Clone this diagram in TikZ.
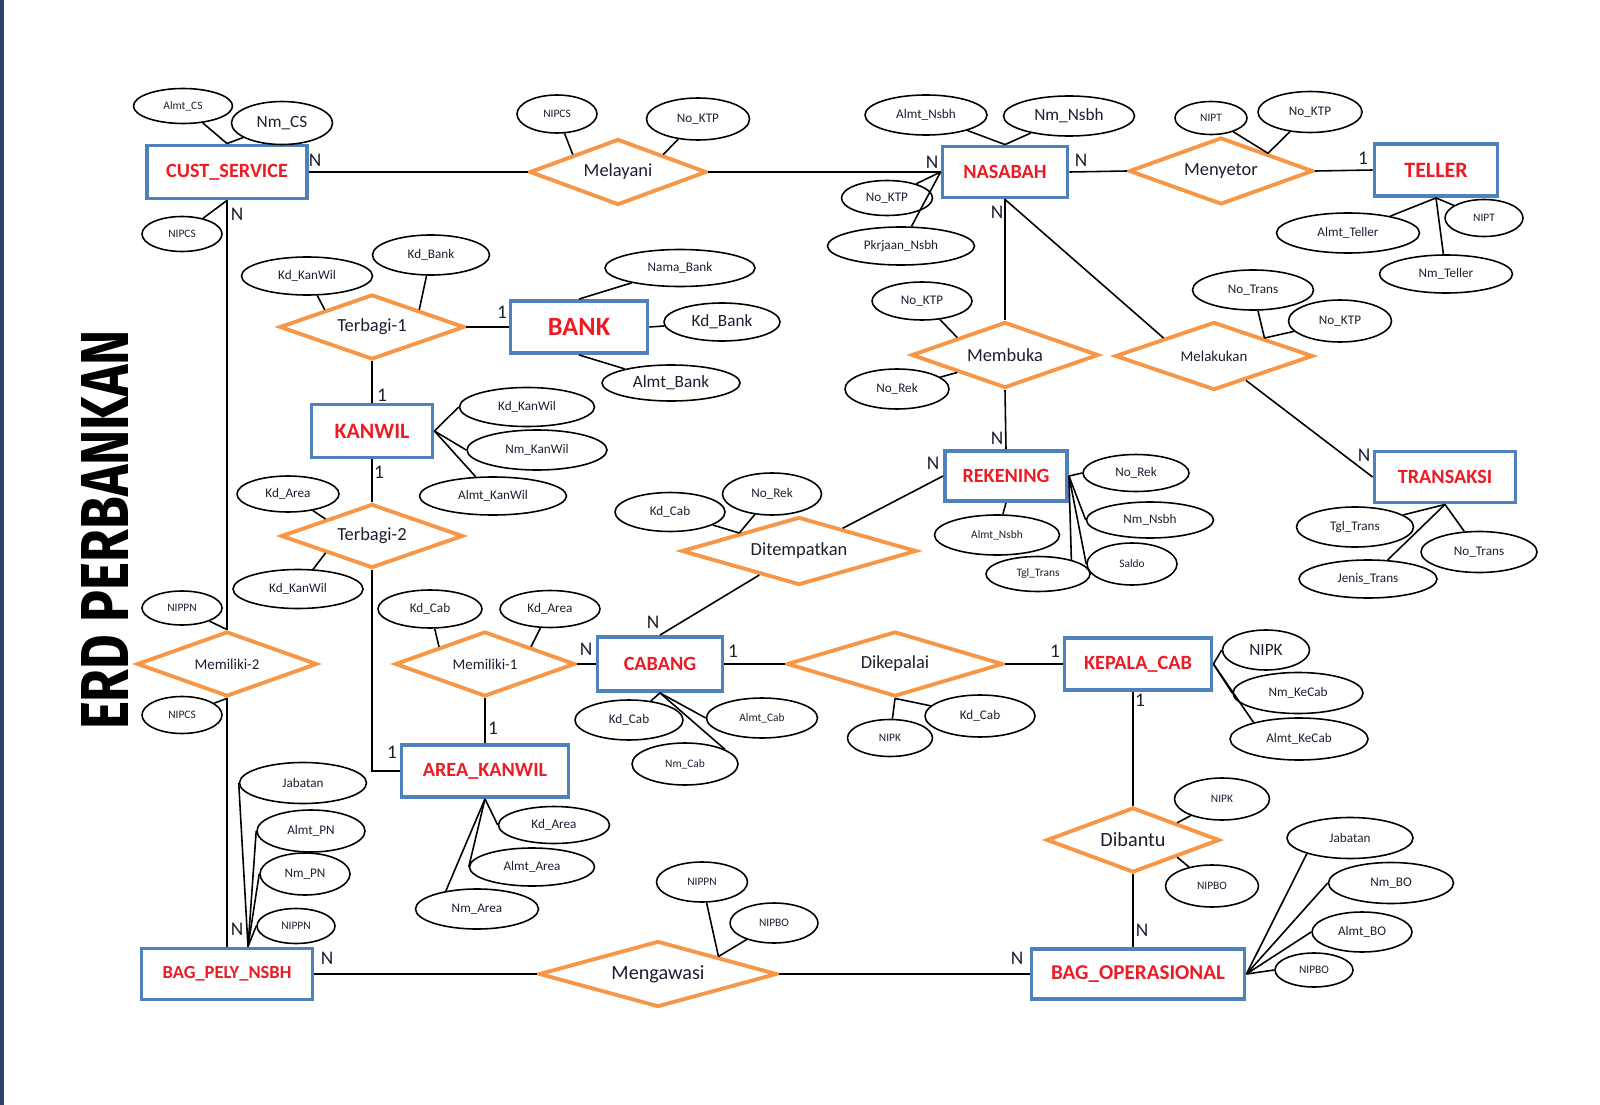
\documentclass[tikz,border=0pt]{standalone}
\usepackage{fontspec}
\setmainfont{Carlito}
\newfontfamily\titlefont{Fira Sans}
\usepackage{xcolor}
\usepackage{tikz}
\usetikzlibrary{shapes.geometric, calc}
\definecolor{entBlue}{RGB}{79, 129, 189}
\definecolor{relOrange}{RGB}{247, 150, 70}
\definecolor{entRed}{RGB}{235, 28, 36}
\definecolor{inkDark}{RGB}{30, 30, 50}
\definecolor{edgeNavy}{RGB}{45, 65, 105}

\begin{document}
\begin{tikzpicture}[x=0.02cm, y=-0.02cm,
    sz/.style 2 args={minimum width=#1*0.02cm, minimum height=#2*0.02cm},
    ent/.style={draw=entBlue, line width=2.2pt, fill=white, text=entRed, inner sep=0pt,
      font=\fontsize{11.5}{13}\selectfont\bfseries},
    rel/.style={diamond, aspect=3.5, draw=relOrange, line width=2.2pt, fill=white, inner sep=0pt,
      text=inkDark, font=\fontsize{10.5}{12}\selectfont},
    attr/.style={ellipse, draw, line width=0.9pt, fill=white, inner sep=1pt, text=inkDark,
      font=\fontsize{7.5}{9}\selectfont},
    attrs/.style={attr, font=\fontsize{6.5}{8}\selectfont},
    attrl/.style={attr, font=\fontsize{9.8}{11}\selectfont},
    link/.style={line width=0.9pt},
    card/.style={inner sep=0pt, text=inkDark, font=\fontsize{11}{13}\selectfont}]
    \useasboundingbox (0,0) rectangle (1600,1105);
    % Page edge
    \fill[edgeNavy] (0,0) rectangle (4,1105);
    % Title
    \node[rotate=90] (title) at (105,530) {\resizebox{8cm}{0.94cm}{\titlefont\bfseries ERD PERBANKAN}};
    % Entities
    \node[ent, sz={160}{53}] (cs) at (227,172) {CUST\_SERVICE};
    \node[ent, sz={125}{51}] (ns) at (1005,172) {NASABAH};
    \node[ent, sz={123}{52}, font=\fontsize{12.5}{14}\selectfont\bfseries] (tl) at (1436,170) {TELLER};
    \node[ent, sz={137}{52}, font=\fontsize{15}{17}\selectfont\bfseries] (bk) at (579,327) {BANK};
    \node[ent, sz={121}{53}, font=\fontsize{12.5}{14}\selectfont\bfseries] (kw) at (372,431) {KANWIL};
    \node[ent, sz={122}{50}] (rk) at (1006,476) {REKENING};
    \node[ent, sz={141}{51}] (tr) at (1445,477) {TRANSAKSI};
    \node[ent, sz={125}{54}] (cb) at (660,664) {CABANG};
    \node[ent, sz={147}{52}] (kc) at (1138,664) {KEPALA\_CAB};
    \node[ent, sz={167}{52}] (ak) at (485,771) {AREA\_KANWIL};
    \node[ent, sz={171}{51}, font=\fontsize{10.5}{12}\selectfont\bfseries] (bp) at (227,974) {BAG\_PELY\_NSBH};
    \node[ent, sz={213}{50}, font=\fontsize{12}{14}\selectfont\bfseries] (bo) at (1138,974) {BAG\_OPERASIONAL};
    % Relationships
    \node[rel, sz={177}{66}] (mly) at (618,172) {Melayani};
    \node[rel, sz={184}{67}] (mny) at (1221,171) {Menyetor};
    \node[rel, sz={185}{65}] (tb1) at (372,327) {Terbagi-1};
    \node[rel, sz={187}{66}] (mbk) at (1005,355) {Membuka};
    \node[rel, sz={198}{68}, font=\fontsize{8.5}{10}\selectfont] (mlk) at (1214,356) {Melakukan};
    \node[rel, sz={182}{64}] (tb2) at (372,536) {Terbagi-2};
    \node[rel, sz={235}{68}] (dtp) at (799,551) {Ditempatkan};
    \node[rel, sz={180}{65}, font=\fontsize{8.5}{10}\selectfont] (m2) at (227,664) {Memiliki-2};
    \node[rel, sz={180}{65}, font=\fontsize{8.5}{10}\selectfont] (m1) at (485,664) {Memiliki-1};
    \node[rel, sz={216}{65}] (dkp) at (895,664) {Dikepalai};
    \node[rel, sz={173}{65}, font=\fontsize{11.5}{13}\selectfont] (dbt) at (1133,840) {Dibantu};
    \node[rel, sz={238}{66}, font=\fontsize{11.5}{13}\selectfont] (mgw) at (658,974) {Mengawasi};
    % Attributes
    \node[attrs, sz={99}{35}] (csAlmt) at (183,106) {Almt\_CS};
    \node[attrl, sz={101}{43}] (csNm) at (282,123) {Nm\_CS};
    \node[attrs, sz={80}{35}] (csNip) at (182,234) {NIPCS};
    \node[attrs, sz={80}{38}] (mlyNip) at (557,114) {NIPCS};
    \node[attr, sz={103}{42}] (mlyKtp) at (698,119) {No\_KTP};
    \node[attr, sz={122}{40}] (nsAlmt) at (926,115) {Almt\_Nsbh};
    \node[attrl, sz={131}{40}] (nsNm) at (1069,116) {Nm\_Nsbh};
    \node[attr, sz={91}{35}] (nsKtp) at (887,198) {No\_KTP};
    \node[attr, sz={147}{38}] (nsKrj) at (901,246) {Pkrjaan\_Nsbh};
    \node[attrs, sz={72}{33}] (mnyNip) at (1211,118) {NIPT};
    \node[attr, sz={104}{41}] (mnyKtp) at (1310,112) {No\_KTP};
    \node[attr, sz={143}{40}] (tlAlmt) at (1348,233) {Almt\_Teller};
    \node[attrs, sz={78}{37}] (tlNip) at (1484,218) {NIPT};
    \node[attr, sz={133}{38}] (tlNm) at (1446,274) {Nm\_Teller};
    \node[attr, sz={131}{38}] (tb1Kw) at (307,276) {Kd\_KanWil};
    \node[attr, sz={117}{40}] (tb1Bk) at (431,255) {Kd\_Bank};
    \node[attr, sz={150}{37}] (bkNama) at (680,268) {Nama\_Bank};
    \node[attrl, sz={116}{38}] (bkKd) at (722,322) {Kd\_Bank};
    \node[attrl, sz={138}{36}] (bkAlmt) at (671,383) {Almt\_Bank};
    \node[attr, sz={135}{39}] (kwKd) at (527,407) {Kd\_KanWil};
    \node[attr, sz={140}{40}] (kwNm) at (537,450) {Nm\_KanWil};
    \node[attr, sz={147}{38}] (kwAlmt) at (493,496) {Almt\_KanWil};
    \node[attr, sz={102}{36}] (tb2Ar) at (288,494) {Kd\_Area};
    \node[attr, sz={130}{39}] (tb2Kw) at (298,589) {Kd\_KanWil};
    \node[attr, sz={100}{38}] (mbkKtp) at (922,301) {No\_KTP};
    \node[attr, sz={104}{40}] (mbkRek) at (897,389) {No\_Rek};
    \node[attr, sz={121}{40}] (mlkTr) at (1253,290) {No\_Trans};
    \node[attr, sz={103}{42}] (mlkKtp) at (1340,321) {No\_KTP};
    \node[attr, sz={106}{37}] (rkNo) at (1136,473) {No\_Rek};
    \node[attr, sz={127}{36}] (rkNm) at (1150,520) {Nm\_Nsbh};
    \node[attrs, sz={90}{42}] (rkSaldo) at (1132,564) {Saldo};
    \node[attrs, sz={125}{40}] (rkAlmt) at (997,535) {Almt\_Nsbh};
    \node[attrs, sz={104}{35}] (rkTgl) at (1038,574) {Tgl\_Trans};
    \node[attr, sz={117}{40}] (trTgl) at (1355,527) {Tgl\_Trans};
    \node[attr, sz={116}{41}] (trNo) at (1479,552) {No\_Trans};
    \node[attr, sz={138}{38}] (trJns) at (1368,579) {Jenis\_Trans};
    \node[attr, sz={110}{39}] (dtpCab) at (670,512) {Kd\_Cab};
    \node[attr, sz={99}{42}] (dtpRek) at (772,494) {No\_Rek};
    \node[attrs, sz={80}{34}] (m2Pn) at (182,608) {NIPPN};
    \node[attrs, sz={80}{37}] (m2Cs) at (182,715) {NIPCS};
    \node[attr, sz={104}{38}] (m1Cab) at (430,609) {Kd\_Cab};
    \node[attr, sz={100}{37}] (m1Ar) at (550,609) {Kd\_Area};
    \node[attr, sz={111}{37}] (akKd) at (554,825) {Kd\_Area};
    \node[attr, sz={125}{38}] (akAlmt) at (532,867) {Almt\_Area};
    \node[attr, sz={123}{40}] (akNm) at (477,909) {Nm\_Area};
    \node[attr, sz={108}{40}] (cbKd) at (629,720) {Kd\_Cab};
    \node[attrs, sz={111}{40}] (cbAlmt) at (762,718) {Almt\_Cab};
    \node[attrs, sz={106}{42}] (cbNm) at (685,764) {Nm\_Cab};
    \node[attrs, sz={85}{37}] (dkpNip) at (890,738) {NIPK};
    \node[attr, sz={110}{42}] (dkpCab) at (980,716) {Kd\_Cab};
    \node[attrl, sz={87}{40}] (kcNip) at (1266,650) {NIPK};
    \node[attr, sz={130}{41}] (kcNm) at (1298,693) {Nm\_KeCab};
    \node[attr, sz={138}{42}] (kcAlmt) at (1299,739) {Almt\_KeCab};
    \node[attrs, sz={95}{42}] (dbtNip) at (1222,799) {NIPK};
    \node[attrs, sz={93}{42}] (dbtBo) at (1212,886) {NIPBO};
    \node[attr, sz={126}{41}] (boJab) at (1350,838) {Jabatan};
    \node[attr, sz={125}{41}] (boNm) at (1391,883) {Nm\_BO};
    \node[attr, sz={100}{40}] (boAlmt) at (1362,932) {Almt\_BO};
    \node[attrs, sz={78}{34}] (boNip) at (1314,970) {NIPBO};
    \node[attrs, sz={91}{40}] (mgwPn) at (702,882) {NIPPN};
    \node[attrs, sz={88}{40}] (mgwBo) at (774,923) {NIPBO};
    \node[attr, sz={127}{41}] (bpJab) at (303,783) {Jabatan};
    \node[attr, sz={108}{42}] (bpAlmt) at (311,831) {Almt\_PN};
    \node[attr, sz={90}{42}] (bpNm) at (305,874) {Nm\_PN};
    \node[attrs, sz={78}{35}] (bpNip) at (296,926) {NIPPN};
    % Relationship lines
    \draw[link] (cs.east) -- (mly.west);
    \draw[link] (mly.east) -- (ns.west);
    \draw[link] (ns.east) -- (mny.west);
    \draw[link] (mny.east) -- (tl.west);
    \draw[link] (ns.south) -- (mbk.north);
    \draw[link] (mbk.south) -- (rk.north);
    \draw[link] (ns.south) -- (mlk.north west);
    \draw[link] (mlk) -- (tr.west);
    \draw[link] (bk.west) -- (tb1.east);
    \draw[link] (tb1.south) -- (kw.north);
    \draw[link] (kw.south) -- (tb2.north);
    \draw[link] (tb2.south) |- (ak.west);
    \draw[link] (m1.south) -- (ak.north);
    \draw[link] (m1.east) -- (cb.west);
    \draw[link] (cb.north) -- (dtp);
    \draw[link] (dtp) -- (rk.west);
    \draw[link] (cb.east) -- (dkp.west);
    \draw[link] (dkp.east) -- (kc.west);
    \draw[link] (kc.south -| dbt.north) -- (dbt.north);
    \draw[link] (dbt.south) -- (dbt.south |- bo.north);
    \draw[link] (cs.south) -- (m2.north);
    \draw[link] (m2.south) -- (bp.north);
    \draw[link] (bp.east) -- (mgw.west);
    \draw[link] (mgw.east) -- (bo.west);
    % Attribute lines
    \foreach \a in {csAlmt, csNm} \draw[link] (\a) -- (cs.north);
    \draw[link] (csNip) -- (cs.south);
    \draw[link] (mlyNip) -- (mly.north west);
    \draw[link] (mlyKtp) -- (mly.north east);
    \foreach \a in {nsAlmt, nsNm} \draw[link] (\a) -- (ns.north);
    \foreach \a in {nsKtp, nsKrj} \draw[link] (\a) -- (ns.west);
    \foreach \a in {mnyNip, mnyKtp} \draw[link] (\a) -- (mny.north east);
    \foreach \a in {tlAlmt, tlNip, tlNm} \draw[link] (\a) -- (tl.south);
    \draw[link] (tb1Kw) -- (tb1.north west);
    \draw[link] (tb1Bk) -- (tb1.north east);
    \draw[link] (bkNama) -- (bk.north);
    \draw[link] (bkKd) -- (bk.east);
    \draw[link] (bkAlmt) -- (bk.south);
    \foreach \a in {kwKd, kwNm} \draw[link] (\a.west) -- (kw.east);
    \draw[link] (kwAlmt) -- (kw.east);
    \draw[link] (tb2Ar) -- (tb2.north west);
    \draw[link] (tb2Kw) -- (tb2.south west);
    \draw[link] (mbkKtp) -- (mbk.north west);
    \draw[link] (mbkRek) -- (mbk.south west);
    \foreach \a in {mlkTr, mlkKtp} \draw[link] (\a) -- (mlk.north east);
    \foreach \a in {rkNo, rkNm, rkSaldo} \draw[link] (\a.west) -- (rk.east);
    \draw[link] (rkTgl.23) -- (rk.east);
    \draw[link] (rkAlmt) -- (rk.south);
    \foreach \a in {trTgl, trNo, trJns} \draw[link] (\a) -- (tr.south);
    \foreach \a in {dtpCab, dtpRek} \draw[link] (\a) -- (dtp.north west);
    \draw[link] (m2Pn) -- (m2.north);
    \draw[link] (m2Cs) -- (m2.south);
    \draw[link] (m1Cab) -- (m1.north west);
    \draw[link] (m1Ar) -- (m1.north east);
    \foreach \a in {akKd, akAlmt} \draw[link] (\a.west) -- (ak.south);
    \draw[link] (akNm.150) -- (ak.south);
    \draw[link] (cbKd) -- (cb.south);
    \draw[link] (cbAlmt.west) -- (cb.south);
    \draw[link] (cbNm.20) -- (cb.south);
    \foreach \a in {dkpNip, dkpCab} \draw[link] (\a) -- (dkp.south);
    \foreach \a in {kcNip, kcNm} \draw[link] (\a.west) -- (kc.east);
    \draw[link] (kcAlmt.160) -- (kc.east);
    \draw[link] (dbtNip) -- (dbt.north east);
    \draw[link] (dbtBo) -- (dbt.south east);
    \draw[link] (boJab.200) -- (bo.east);
    \foreach \a in {boNm, boAlmt, boNip} \draw[link] (\a.west) -- (bo.east);
    \foreach \a in {mgwPn, mgwBo} \draw[link] (\a) -- (mgw.north east);
    \foreach \a in {bpJab, bpAlmt, bpNm, bpNip} \draw[link] (\a.west) -- ($(bp.north)+(21,0)$);
    % Cardinalities
    \foreach \x/\y/\t [count=\i] in {315/160/N, 237/214/N, 932/162/N, 1081/160/N, 997/212/N,
        1363/158/1, 502/312/1, 382/395/1, 379/472/1, 997/438/N, 933/463/N, 1364/455/N,
        653/622/N, 586/649/N, 733/651/1, 1055/651/1, 1140/700/1, 493/728/1, 392/752/1,
        237/929/N, 327/958/N, 1142/930/N, 1017/958/N}
      \node[card] (card\i) at (\x,\y) {\t};
  \end{tikzpicture}
\end{document}
